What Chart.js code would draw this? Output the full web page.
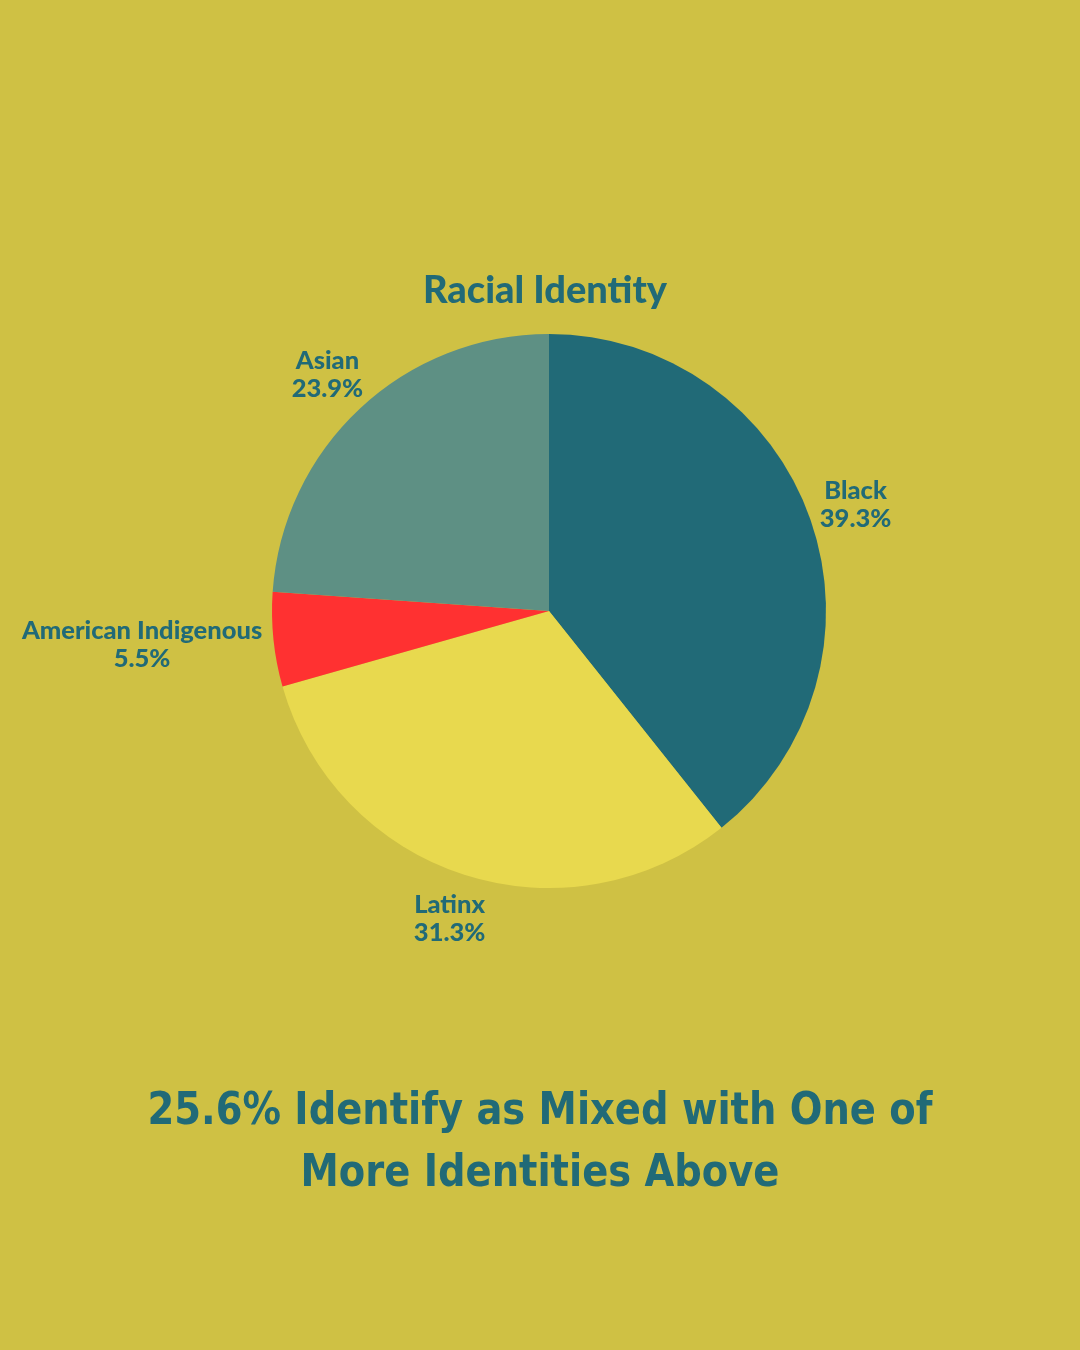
<!DOCTYPE html>
<html>
<head>
<meta charset="utf-8">
<script src="https://cdn.jsdelivr.net/npm/chart.js@4"></script>
<style>
  html, body { margin: 0; padding: 0; background: #cfc144; }
  #wrap { position: relative; width: 1080px; height: 1350px; }
  #footer {
    position: absolute; left: 0; top: 1078px; width: 1080px; text-align: center;
    font-family: "DejaVu Sans Condensed", "Liberation Sans Narrow", sans-serif;
    font-weight: bold; font-size: 45px; line-height: 62px; color: #216a77;
    transform: scaleX(0.95); transform-origin: 540px 0;
  }
</style>
</head>
<body>
<div id="wrap">
  <canvas id="pie" width="1080" height="1350"></canvas>
  <div id="footer">25.6% Identify as Mixed with One of<br>More Identities Above</div>
</div>
<script>
// slices in clockwise order from 12 o'clock
const categories = ["Black", "Latinx", "American Indigenous", "Asian"];
const shares = [39.3, 31.3, 5.5, 23.9];
const sliceColors = ["#216a77", "#e8d94e", "#ff3131", "#5e9084"];
const chartTitle = "Racial Identity";

const textColor = "#216a77";

// draws the title and the name / percent labels outside each slice
const outsideLabels = {
  id: "outsideLabels",
  afterDatasetsDraw(chart) {
    const ctx = chart.ctx;
    const arcs = chart.getDatasetMeta(0).data;
    ctx.save();
    ctx.fillStyle = textColor;
    ctx.textAlign = "center";
    ctx.textBaseline = "middle";

    ctx.font = "900 38px Lato, sans-serif";
    ctx.fillText(chartTitle, 545, 291);

    ctx.font = "900 25.5px Lato, sans-serif";
    arcs.forEach((arc, i) => {
      const mid = (arc.startAngle + arc.endAngle) / 2;
      const dx = Math.cos(mid), dy = Math.sin(mid);
      const lines = [categories[i], shares[i].toFixed(1) + "%"];
      const w = Math.max(...lines.map(l => ctx.measureText(l).width));
      const h = 69;
      const r = arc.outerRadius + 12;
      const cx = arc.x + dx * r + dx * w / 2;
      const cy = arc.y + dy * r + dy * h / 2;
      ctx.fillText(lines[0], cx, cy - 14);
      ctx.fillText(lines[1], cx, cy + 14);
    });
    ctx.restore();
  }
};

new Chart(document.getElementById("pie"), {
  type: "pie",
  data: {
    labels: categories,
    datasets: [{
      data: shares,
      backgroundColor: sliceColors,
      borderWidth: 0
    }]
  },
  options: {
    responsive: false,
    animation: false,
    layout: { padding: { left: 272, right: 254, top: 334, bottom: 462 } },
    plugins: {
      legend: { display: false },
      tooltip: { enabled: false }
    }
  },
  plugins: [outsideLabels]
});
</script>
</body>
</html>
